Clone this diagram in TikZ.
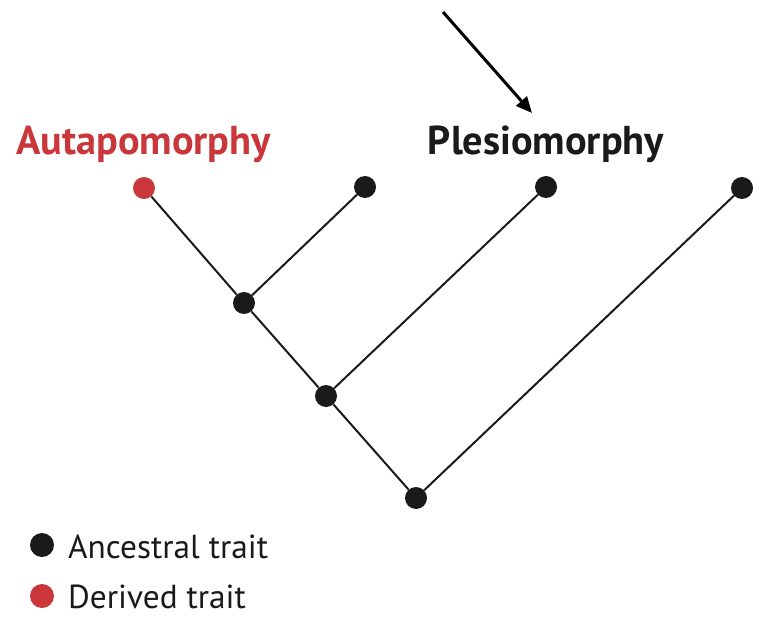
\documentclass[tikz,border=0pt]{standalone}
\usepackage{fontspec}
\setmainfont{PT Sans}
\usetikzlibrary{arrows.meta}
\definecolor{derived}{HTML}{C9373A}
\definecolor{anc}{HTML}{1A1A1A}
\begin{document}
\begin{tikzpicture}[x=1pt,y=-1pt,
  dot/.style={circle,fill=anc,minimum size=22pt,inner sep=0pt},
  reddot/.style={circle,fill=derived,minimum size=22pt,inner sep=0pt},
  branch/.style={anc,line width=2pt},
  title/.style={font=\fontsize{40.3}{42}\selectfont\bfseries,inner sep=0pt},
  legend/.style={font=\fontsize{33.3}{36}\selectfont,inner sep=0pt,anchor=base west}]
\useasboundingbox (0,0) rectangle (768,628);
\node[reddot] (A) at (144,188) {};
\node[dot] (B) at (365,187) {};
\node[dot] (C) at (546,187) {};
\node[dot] (D) at (742,188) {};
\node[dot] (n1) at (244,303) {};
\node[dot] (n2) at (326,396) {};
\node[dot] (n3) at (416,498) {};
\draw[branch] (A) -- (n1);
\draw[branch] (B) -- (n1);
\draw[branch] (n1) -- (n2);
\draw[branch] (C) -- (n2);
\draw[branch] (n2) -- (n3);
\draw[branch] (D) -- (n3);
\node[title,text=derived,anchor=base] (aut) at (143.5,155) {Autapomorphy};
\node[title,text=anc,anchor=base] (ples) at (546,155) {Plesiomorphy};
\coordinate (arrstart) at (443,12);
\coordinate (arrend) at (532,113);
\draw[black,line width=3pt,-{Triangle[length=16pt,width=14pt]}] (arrstart) -- (arrend);
\node[dot,minimum size=24pt] (la) at (42,545) {};
\node[reddot,minimum size=24pt] (ld) at (42,596) {};
\node[legend,text=anc] (lat) at (68,558) {Ancestral trait};
\node[legend,text=anc] (ldt) at (68,608) {Derived trait};
\end{tikzpicture}
\end{document}
